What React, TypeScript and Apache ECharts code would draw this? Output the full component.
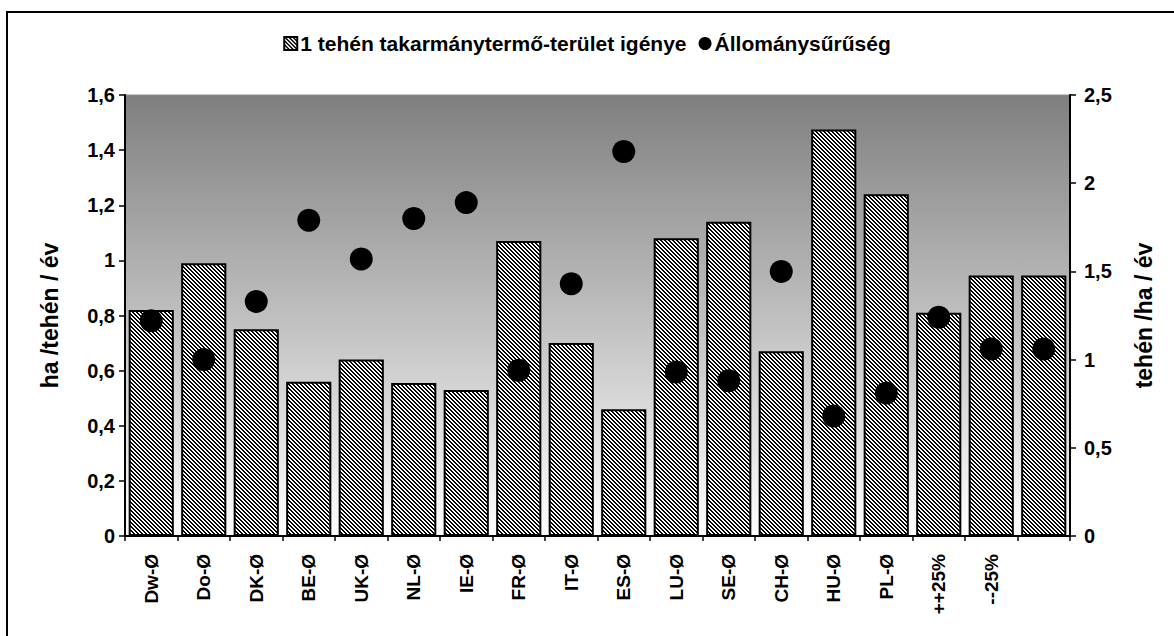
import React, { useEffect, useRef } from "react";
import * as echarts from "echarts";

const categories = ["Dw-Ø", "Do-Ø", "DK-Ø", "BE-Ø", "UK-Ø", "NL-Ø", "IE-Ø", "FR-Ø", "IT-Ø", "ES-Ø", "LU-Ø", "SE-Ø", "CH-Ø", "HU-Ø", "PL-Ø", "++25%", "--25%", ""];
const areaNeed = [0.82, 0.99, 0.75, 0.56, 0.64, 0.555, 0.53, 1.07, 0.70, 0.46, 1.08, 1.14, 0.67, 1.475, 1.24, 0.81, 0.945, 0.945];
const density = [1.22, 1.0, 1.33, 1.79, 1.57, 1.8, 1.89, 0.94, 1.43, 2.18, 0.93, 0.88, 1.5, 0.68, 0.81, 1.24, 1.06, 1.06];
const barName = "1 tehén takarmánytermő-terület igénye";
const dotName = "Állománysűrűség";
const leftTicks = { min: 0, max: 1.6, interval: 0.2 };
const rightTicks = { min: 0, max: 2.5, interval: 0.5 };

function hatch(): string {
  const c = document.createElement("canvas");
  c.width = 4;
  c.height = 4;
  const ctx = c.getContext("2d")!;
  ctx.fillStyle = "#ffffff";
  ctx.fillRect(0, 0, 4, 4);
  ctx.fillStyle = "#000000";
  for (let y = 0; y < 4; y++) {
    for (let x = 0; x < 4; x++) {
      if (((x - y) % 4 + 4) % 4 < 2) ctx.fillRect(x, y, 1, 1);
    }
  }
  return c.toDataURL();
}

const fmt = (v: number) => String(Math.round(v * 10) / 10).replace(".", ",");

export default function App() {
  const ref = useRef<HTMLDivElement>(null);
  useEffect(() => {
    const chart = echarts.init(ref.current!, null, { renderer: "svg" });
    const pattern = { image: hatch(), repeat: "repeat" } as any;
    const font = "Liberation Sans, Arial, sans-serif";
    chart.setOption({
      animation: false,
      textStyle: { fontFamily: font },
      legend: {
        top: 28,
        left: "center",
        itemGap: 12,
        itemWidth: 13,
        itemHeight: 13,
        textStyle: { fontSize: 21, fontWeight: "bold", color: "#000", fontFamily: font, padding: [0, 0, 0, -2] },
        data: [
          { name: barName, icon: "rect" },
          { name: dotName, icon: "circle" },
        ],
      },
      grid: {
        left: 125,
        right: 104,
        top: 95,
        bottom: 100,
        show: true,
        borderColor: "#8a8a8a",
        borderWidth: 1,
        backgroundColor: new echarts.graphic.LinearGradient(0, 0, 0, 1, [
          { offset: 0, color: "#7f7f7f" },
          { offset: 1, color: "#ffffff" },
        ]),
      },
      xAxis: {
        type: "category",
        data: categories,
        axisLine: { lineStyle: { color: "#000", width: 2 } },
        axisTick: { show: true, length: 5, lineStyle: { color: "#000", width: 1.5 } },
        axisLabel: {
          rotate: 90,
          interval: 0,
          color: "#000",
          fontSize: 19,
          fontWeight: "bold",
          fontFamily: font,
          margin: 18,
        },
      },
      yAxis: [
        {
          type: "value",
          ...leftTicks,
          name: "ha /tehén / év",
          nameLocation: "middle",
          nameGap: 64,
          nameTextStyle: { fontSize: 23, fontWeight: "bold", color: "#000", fontFamily: font },
          axisLine: { show: true, lineStyle: { color: "#000", width: 2 } },
          axisTick: { show: true, length: 6, lineStyle: { color: "#000", width: 1.5 } },
          axisLabel: { color: "#000", fontSize: 20, fontWeight: "bold", fontFamily: font, margin: 10, formatter: fmt },
          splitLine: { show: false },
        },
        {
          type: "value",
          ...rightTicks,
          name: "tehén /ha / év",
          nameLocation: "middle",
          nameGap: 62,
          nameRotate: 90,
          nameTextStyle: { fontSize: 23, fontWeight: "bold", color: "#000", fontFamily: font },
          axisLine: { show: true, lineStyle: { color: "#000", width: 2 } },
          axisTick: { show: true, length: 6, lineStyle: { color: "#000", width: 1.5 } },
          axisLabel: { color: "#000", fontSize: 20, fontWeight: "bold", fontFamily: font, margin: 14, formatter: fmt },
          splitLine: { show: false },
        },
      ],
      series: [
        {
          name: barName,
          type: "bar",
          data: areaNeed,
          barCategoryGap: "14%",
          itemStyle: { color: pattern, borderColor: "#000", borderWidth: 2 },
        },
        {
          name: dotName,
          type: "scatter",
          yAxisIndex: 1,
          data: density,
          symbol: "circle",
          symbolSize: 23,
          itemStyle: { color: "#000", opacity: 1 },
        },
      ],
    });
    return () => chart.dispose();
  }, []);
  return (
    <div style={{ position: "absolute", left: 0, top: 0, width: 1174, height: 636, background: "#fff", overflow: "hidden" }}>
      <div
        style={{
          position: "absolute",
          left: 6,
          top: 11,
          width: 1200,
          height: 700,
          borderLeft: "2px solid #000",
          borderTop: "2px solid #000",
        }}
      />
      <div ref={ref} style={{ position: "absolute", left: 0, top: 0, width: 1174, height: 636 }} />
    </div>
  );
}
